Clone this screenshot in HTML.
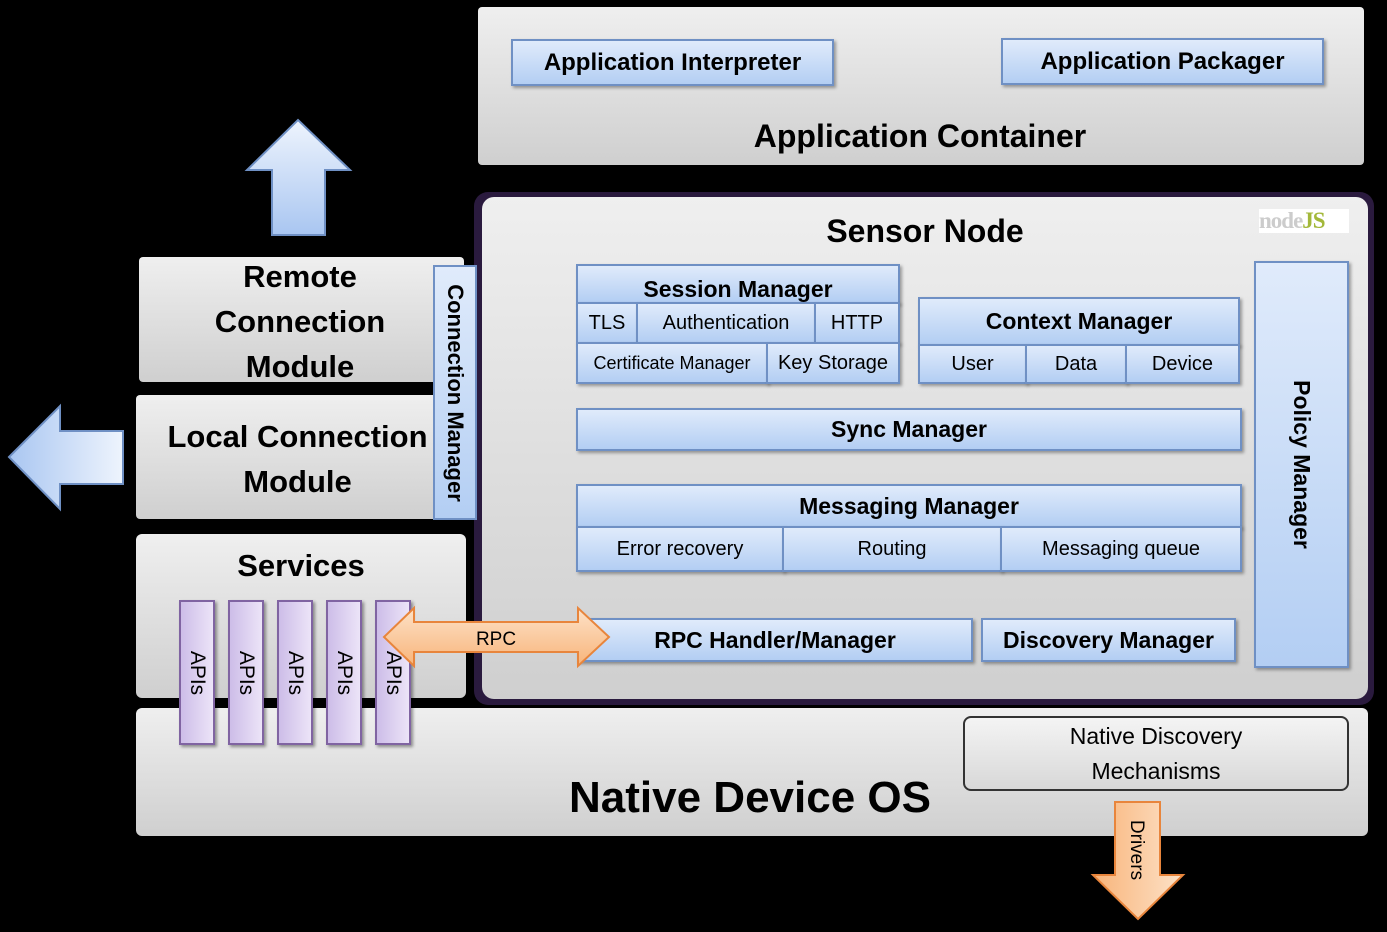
<!DOCTYPE html>
<html><head><meta charset="utf-8"><style>
*{margin:0;padding:0;box-sizing:border-box}
body{width:1387px;height:932px;background:#000;position:relative;overflow:hidden;font-family:"Liberation Sans",sans-serif;color:#000}
.a{position:absolute}
.g{position:absolute;background:linear-gradient(#efefef,#cfcfcf);border-radius:6px}
.b{position:absolute;background:linear-gradient(#e0ebfb,#b3cef3);border:2px solid #6f90c4;display:flex;align-items:center;justify-content:center;font-size:20px;white-space:nowrap;box-shadow:2px 2px 3px rgba(0,0,0,.35)}
.bb{font-weight:bold;font-size:23px}
.t{position:absolute;font-weight:bold;text-align:center;white-space:nowrap}
.api{position:absolute;top:600px;width:36px;height:145px;background:linear-gradient(90deg,#cdbde8,#ece4f8);border:2px solid #8064a2;box-shadow:2px 2px 3px rgba(0,0,0,.4)}
.api span{position:absolute;left:50%;top:50%;transform:translate(-50%,-50%) rotate(90deg);font-size:21px;white-space:nowrap}
</style></head><body>

<div class="g" style="left:478px;top:7px;width:886px;height:158px;border-radius:4px"></div>
<div class="b bb" style="left:511px;top:39px;width:323px;height:47px;font-size:24px">Application Interpreter</div>
<div class="b bb" style="left:1001px;top:38px;width:323px;height:47px;font-size:24px">Application Packager</div>
<div class="t" style="left:620px;top:118px;width:600px;font-size:32px">Application Container</div>

<svg class="a" style="left:0;top:0" width="480" height="932">
<defs>
<linearGradient id="bl" x1="0" y1="0" x2="0" y2="1"><stop offset="0" stop-color="#eef4fd"/><stop offset="1" stop-color="#a9c6f1"/></linearGradient>
<linearGradient id="bl2" x1="0" y1="0" x2="1" y2="0"><stop offset="0" stop-color="#a9c6f1"/><stop offset="1" stop-color="#eef4fd"/></linearGradient>
</defs>
<polygon points="298,120 350,170 325,170 325,235 272,235 272,170 247,170" fill="url(#bl)" stroke="#6f90c4" stroke-width="2"/>
<polygon points="9,457 60,406 60,431 123,431 123,484 60,484 60,509" fill="url(#bl2)" stroke="#6f90c4" stroke-width="2"/>
</svg>

<div class="a" style="left:474px;top:192px;width:900px;height:513px;background:#2a1a3e;border-radius:14px"></div>
<div class="g" style="left:482px;top:197px;width:886px;height:502px;border-radius:12px"></div>
<div class="t" style="left:725px;top:213px;width:400px;font-size:32px">Sensor Node</div>
<div class="a" style="left:1259px;top:209px;width:90px;height:24px;background:#fff;font-family:'Liberation Serif',serif;font-weight:bold;font-size:23px;line-height:24px;letter-spacing:-1px"><span style="color:#ccc">node</span><span style="color:#a3b83a">JS</span></div>

<div class="b bb" style="left:576px;top:264px;width:324px;height:40px;align-items:flex-end;overflow:hidden;line-height:26px">Session Manager</div>
<div class="b" style="left:576px;top:302px;width:62px;height:42px">TLS</div>
<div class="b" style="left:636px;top:302px;width:180px;height:42px">Authentication</div>
<div class="b" style="left:814px;top:302px;width:86px;height:42px">HTTP</div>
<div class="b" style="left:576px;top:342px;width:192px;height:42px;font-size:18px">Certificate Manager</div>
<div class="b" style="left:766px;top:342px;width:134px;height:42px">Key Storage</div>

<div class="b bb" style="left:918px;top:297px;width:322px;height:49px">Context Manager</div>
<div class="b" style="left:918px;top:344px;width:109px;height:40px">User</div>
<div class="b" style="left:1025px;top:344px;width:102px;height:40px">Data</div>
<div class="b" style="left:1125px;top:344px;width:115px;height:40px">Device</div>

<div class="b bb" style="left:576px;top:408px;width:666px;height:43px">Sync Manager</div>

<div class="b bb" style="left:576px;top:484px;width:666px;height:44px">Messaging Manager</div>
<div class="b" style="left:576px;top:526px;width:208px;height:46px">Error recovery</div>
<div class="b" style="left:782px;top:526px;width:220px;height:46px">Routing</div>
<div class="b" style="left:1000px;top:526px;width:242px;height:46px">Messaging queue</div>

<div class="b bb" style="left:577px;top:618px;width:396px;height:44px">RPC Handler/Manager</div>
<div class="b bb" style="left:981px;top:618px;width:255px;height:44px">Discovery Manager</div>

<div class="b bb" style="left:1254px;top:261px;width:95px;height:407px"><span style="transform:rotate(90deg);display:inline-block">Policy Manager</span></div>

<div class="g" style="left:139px;top:257px;width:325px;height:125px;border-radius:4px"></div>
<div class="t" style="left:150px;top:254px;width:300px;font-size:31px;line-height:45px">Remote<br>Connection<br>Module</div>
<div class="g" style="left:136px;top:395px;width:310px;height:124px;border-radius:4px"></div>
<div class="t" style="left:140px;top:414px;width:315px;font-size:31px;line-height:45px">Local Connection<br>Module</div>
<div class="b" style="left:433px;top:265px;width:44px;height:255px;font-weight:bold;font-size:22px;box-shadow:none"><span style="transform:rotate(90deg);display:inline-block">Connection Manager</span></div>

<div class="g" style="left:136px;top:534px;width:330px;height:164px;border-radius:6px"></div>
<div class="t" style="left:136px;top:548px;width:330px;font-size:31px">Services</div>

<div class="g" style="left:136px;top:708px;width:1232px;height:128px;border-radius:6px"></div>
<div class="t" style="left:500px;top:773px;width:500px;font-size:44px">Native Device OS</div>
<div class="a" style="left:963px;top:716px;width:386px;height:75px;border:2px solid #333;border-radius:8px;background:linear-gradient(#f4f4f4,#d8d8d8);text-align:center;font-size:23px;line-height:35px;padding-top:1px">Native Discovery<br>Mechanisms</div>

<div class="api" style="left:179px"><span>APIs</span></div>
<div class="api" style="left:228px"><span>APIs</span></div>
<div class="api" style="left:277px"><span>APIs</span></div>
<div class="api" style="left:326px"><span>APIs</span></div>
<div class="api" style="left:375px"><span>APIs</span></div>

<svg class="a" style="left:0;top:0" width="1387" height="932">
<defs>
<linearGradient id="or" x1="0" y1="0" x2="0" y2="1"><stop offset="0" stop-color="#fde2c8"/><stop offset="1" stop-color="#f8b47a"/></linearGradient>
<linearGradient id="or2" x1="0" y1="0" x2="1" y2="0"><stop offset="0" stop-color="#f8b47a"/><stop offset="1" stop-color="#fde2c8"/></linearGradient>
</defs>
<polygon points="384,637 414,608 414,622 578,622 578,608 609,637 578,666 578,652 414,652 414,666" fill="url(#or)" stroke="#e8853c" stroke-width="2"/>
<text x="496" y="645" font-family="Liberation Sans,sans-serif" font-size="19" text-anchor="middle">RPC</text>
<polygon points="1115,802 1160,802 1160,875 1183,875 1138,919 1093,875 1115,875" fill="url(#or2)" stroke="#e8853c" stroke-width="2"/>
<text x="1138" y="850" font-family="Liberation Sans,sans-serif" font-size="19" text-anchor="middle" transform="rotate(90 1138 850)" dy="7">Drivers</text>
</svg>
</body></html>
